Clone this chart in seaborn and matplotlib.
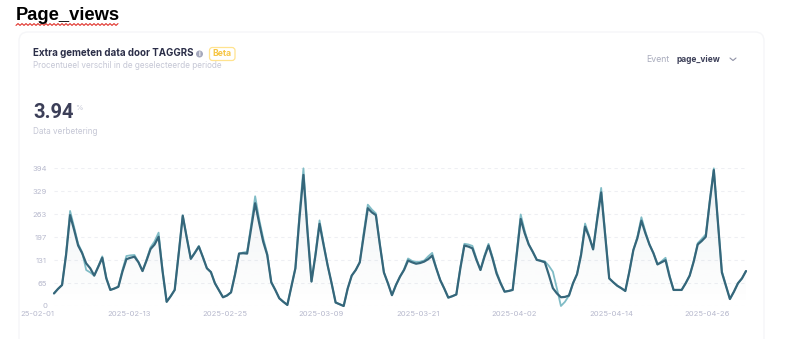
import numpy as np
import pandas as pd
import matplotlib
matplotlib.use('Agg')
import matplotlib.pyplot as plt
import seaborn as sns
from matplotlib.patches import FancyBboxPatch, Circle

# values, one every 12 hours
dates = pd.date_range('2025-02-01', periods=173, freq='12h')
improved = [36, 49, 60, 146, 260, 218, 173, 151, 122, 108, 87, 112, 138, 79, 46, 50, 55, 98, 134, 138,
            141, 125, 100, 130, 163, 176, 198, 98, 12, 28, 46, 150, 258, 195, 135, 152, 170, 140, 108, 97,
            65, 45, 25, 30, 39, 90, 150, 151, 150, 222, 294, 237, 184, 146, 68, 46, 22, 12, 3, 55,
            108, 250, 375, 213, 70, 146, 235, 175, 117, 65, 10, 5, 0, 50, 87, 103, 125, 203, 280, 268,
            260, 175, 96, 65, 31, 60, 84, 103, 130, 125, 121, 123, 127, 134, 144, 108, 74, 50, 24, 28,
            33, 108, 173, 170, 165, 132, 103, 141, 173, 136, 93, 65, 41, 43, 46, 146, 249, 208, 176, 155,
            132, 129, 125, 89, 51, 36, 25, 26, 30, 65, 91, 146, 227, 198, 162, 246, 325, 203, 79, 68,
            58, 51, 43, 98, 160, 194, 244, 208, 176, 151, 119, 125, 131, 84, 46, 46, 46, 65, 87, 127,
            176, 186, 198, 299, 389, 241, 96, 58, 20, 41, 65, 79, 100]
measured = [36, 49, 60, 150, 272, 226, 178, 154, 103, 96, 87, 114, 142, 82, 46, 50, 55, 103, 143, 145,
            146, 126, 100, 133, 168, 185, 210, 100, 12, 28, 46, 152, 260, 196, 135, 153, 172, 140, 108, 97,
            65, 45, 25, 30, 39, 92, 150, 153, 155, 232, 314, 248, 194, 150, 68, 46, 22, 12, 3, 55,
            108, 262, 394, 222, 70, 152, 245, 180, 117, 65, 10, 5, 0, 50, 87, 103, 125, 212, 290, 276,
            265, 176, 96, 65, 31, 60, 84, 105, 136, 129, 126, 127, 130, 142, 152, 110, 74, 50, 24, 28,
            33, 110, 178, 176, 172, 136, 103, 145, 178, 140, 98, 67, 41, 43, 46, 152, 262, 215, 176, 155,
            132, 130, 128, 115, 98, 50, 0, 12, 30, 65, 91, 148, 236, 202, 162, 252, 338, 208, 79, 68,
            58, 51, 43, 98, 160, 198, 254, 213, 176, 151, 119, 128, 138, 88, 46, 46, 46, 65, 87, 129,
            180, 192, 205, 301, 394, 243, 100, 60, 20, 41, 65, 79, 100]
y_ticks = [0, 65, 131, 197, 263, 329, 394]
y_grid = [0, 65.67, 131.33, 197, 262.67, 328.33, 394]
x_ticks = ['2025-02-01', '2025-02-13', '2025-02-25', '2025-03-09', '2025-03-21', '2025-04-02', '2025-04-14', '2025-04-26']
x_labels = ['25-02-01', '2025-02-13', '2025-02-25', '2025-03-09', '2025-03-21', '2025-04-02', '2025-04-14', '2025-04-26']

df = pd.DataFrame({'date': dates, 'improved': improved, 'measured': measured})

W, H = 809, 362
sns.set_theme(style='white')
plt.rcParams['font.family'] = ['Inter', 'DejaVu Sans']
fig = plt.figure(figsize=(W / 100, H / 100), dpi=100)

# overlay in pixel coordinates for the card and its texts
bg = fig.add_axes([0, 0, 1, 1])
bg.set_xlim(0, W)
bg.set_ylim(H, 0)
bg.axis('off')
bg.add_patch(FancyBboxPatch((19, 32), 745, 330, boxstyle='round,pad=0,rounding_size=9',
                            fc='white', ec='#f5f6f8', lw=1))
bg.add_patch(plt.Rectangle((10, 339), 790, 30, fc='white', ec='none', zorder=2))

bg.text(16, 16, 'Page_views', family='Liberation Sans', fontsize=13.2, fontweight='bold', color='black', va='center')
wave_x = np.arange(16, 120, 2)
wave_y = 24.5 + np.where(np.arange(len(wave_x)) % 2 == 0, 0.9, -0.9)
bg.plot(wave_x, wave_y, color='#e0312a', lw=0.8)

bg.text(33, 53, 'Extra gemeten data door TAGGRS', fontsize=7.0, fontweight='bold', color='#2b2e48', va='center')
bg.add_patch(Circle((199.5, 54), 3.5, fc='#a5a8bc', ec='none'))
bg.text(199.5, 54, 'i', fontsize=4.5, fontweight='bold', color='white', ha='center', va='center')
bg.add_patch(FancyBboxPatch((209.5, 47.5), 25.5, 13, boxstyle='round,pad=0,rounding_size=3',
                            fc='white', ec='#ffe38f', lw=0.9))
bg.text(222, 54, 'Beta', fontsize=6.2, fontweight='bold', color='#f6c543', ha='center', va='center')
bg.text(33, 66, 'Procentueel verschil in de geselecteerde periode', fontsize=5.85, color='#c5c7d5', va='center')
bg.text(33, 112, '3.94', family='Roboto', fontsize=14.5, fontweight='bold', color='#3c3f58', va='center')
bg.text(75, 108, '%', fontsize=5.5, color='#c5c7d5', va='center')
bg.text(33, 132, 'Data verbetering', fontsize=5.85, color='#c5c7d5', va='center')
bg.text(646, 59, 'Event', fontsize=6.3, color='#a9acbd', va='center')
bg.text(677, 59, 'page_view', fontsize=6.0, fontweight='bold', color='#3c3f58', va='center')
bg.plot([730, 733, 736], [58, 60.5, 58], color='#8f92a6', lw=0.8)

# chart area
left, right, top, bottom = 54, 746, 168.3, 306
ax = fig.add_axes([left / W, 1 - bottom / H, (right - left) / W, (bottom - top) / H])
ax.patch.set_alpha(0)
sns.lineplot(data=df, x='date', y='measured', color='#80bcc6', lw=1.3, ax=ax, zorder=3)
sns.lineplot(data=df, x='date', y='improved', color='#35667a', lw=1.6, ax=ax, zorder=4)

xnum = matplotlib.dates.date2num(df['date'])
ax.set_xlim(xnum[0], xnum[-1])
ax.set_ylim(0, 394)

# pale gradient under the line
rgba = np.zeros((256, 1, 4))
rgba[..., :3] = matplotlib.colors.to_rgb('#35667a')
rgba[..., 3] = np.linspace(0.09, 0, 256).reshape(-1, 1)
img = ax.imshow(rgba, extent=[xnum[0], xnum[-1], 0, 394], aspect='auto', origin='upper', zorder=2)
poly = ax.fill_between(xnum, improved, 0, color='none')
img.set_clip_path(poly.get_paths()[0], transform=ax.transData)
ax.set_xlim(xnum[0], xnum[-1])
ax.set_ylim(0, 394)

ax.set_yticks(y_grid)
ax.set_yticklabels(y_ticks)
ax.set_xticks(matplotlib.dates.date2num(pd.to_datetime(x_ticks)))
ax.set_xticklabels(x_labels, ha='right')
ax.tick_params(axis='both', length=0, labelsize=5.5, labelcolor='#b7b9cd', pad=3.5)
ax.tick_params(axis='y', pad=5)
ax.grid(False)
ax.grid(axis='y', color='#eeeff3', lw=0.8, ls=(0, (3, 3)), zorder=0)
ax.set_xlabel('')
ax.set_ylabel('')
sns.despine(ax=ax, left=True, bottom=True)
for line in ax.get_lines():
    line.set_clip_on(False)
    line.set_solid_joinstyle('round')

fig.savefig('out.png', dpi=100)
